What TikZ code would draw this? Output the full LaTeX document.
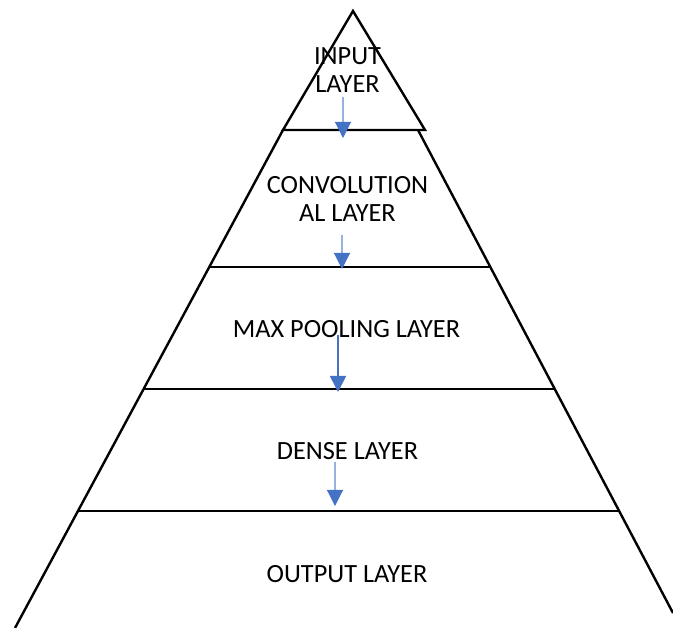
\documentclass[tikz,border=0pt]{standalone}
\usepackage{fontspec}
\setmainfont{Carlito}
\usetikzlibrary{arrows.meta}
\definecolor{arrowblue}{HTML}{4472C4}
\tikzset{
  edge/.style={draw=black, line width=2.4pt, line join=miter},
  label/.style={inner sep=0pt, anchor=base, font=\fontsize{26.3}{30}\selectfont},
  flow/.style={draw=arrowblue!55, line width=1.1pt,
    -{Triangle[length=16pt,width=16pt,color=arrowblue]}},
  flowstrong/.style={draw=arrowblue, line width=1.6pt,
    -{Triangle[length=16pt,width=16pt,color=arrowblue]}}
}
\begin{document}
\begin{tikzpicture}[x=1pt,y=-1pt]
\useasboundingbox (0,0) rectangle (673,628);
% pyramid geometry
\coordinate (apex) at (353,11);
\coordinate (tl) at (283,130);
\coordinate (tr) at (425,130);
\coordinate (lt) at (283,130);
\coordinate (lb) at (15,628);
\coordinate (rt) at (418,130);
\coordinate (rb) at (673,613);
\coordinate (l1) at (209.3,267);
\coordinate (r1) at (489.5,267);
\coordinate (l2) at (143.6,389);
\coordinate (r2) at (554.5,389);
\coordinate (l3) at (77.9,511);
\coordinate (r3) at (619.5,511);
% top triangle
\draw[edge] (tl) -- (apex) -- (tr) -- cycle;
% sides
\draw[edge] (lt) -- (lb);
\draw[edge] (rt) -- (rb);
% layer separators
\draw[edge] (l1) -- (r1);
\draw[edge] (l2) -- (r2);
\draw[edge] (l3) -- (r3);
% labels
\node[label] (in1) at (347.5,65) {INPUT};
\node[label] (in2) at (347.5,93) {LAYER};
\node[label] (cv1) at (347.5,194) {CONVOLUTION};
\node[label] (cv2) at (347.5,222) {AL LAYER};
\node[label] (mp) at (346.5,338) {MAX POOLING LAYER};
\node[label] (dn) at (347.5,460) {DENSE LAYER};
\node[label] (out) at (347,583) {OUTPUT LAYER};
% arrows
\coordinate (a1s) at (343,97);
\coordinate (a1e) at (343,138);
\coordinate (a2s) at (342,235);
\coordinate (a2e) at (342,269);
\coordinate (a3s) at (338,335);
\coordinate (a3e) at (338,392);
\coordinate (a4s) at (335,462);
\coordinate (a4e) at (335,506);
\draw[flow] (a1s) -- (a1e);
\draw[flow] (a2s) -- (a2e);
\draw[flowstrong] (a3s) -- (a3e);
\draw[flow] (a4s) -- (a4e);
\end{tikzpicture}
\end{document}
